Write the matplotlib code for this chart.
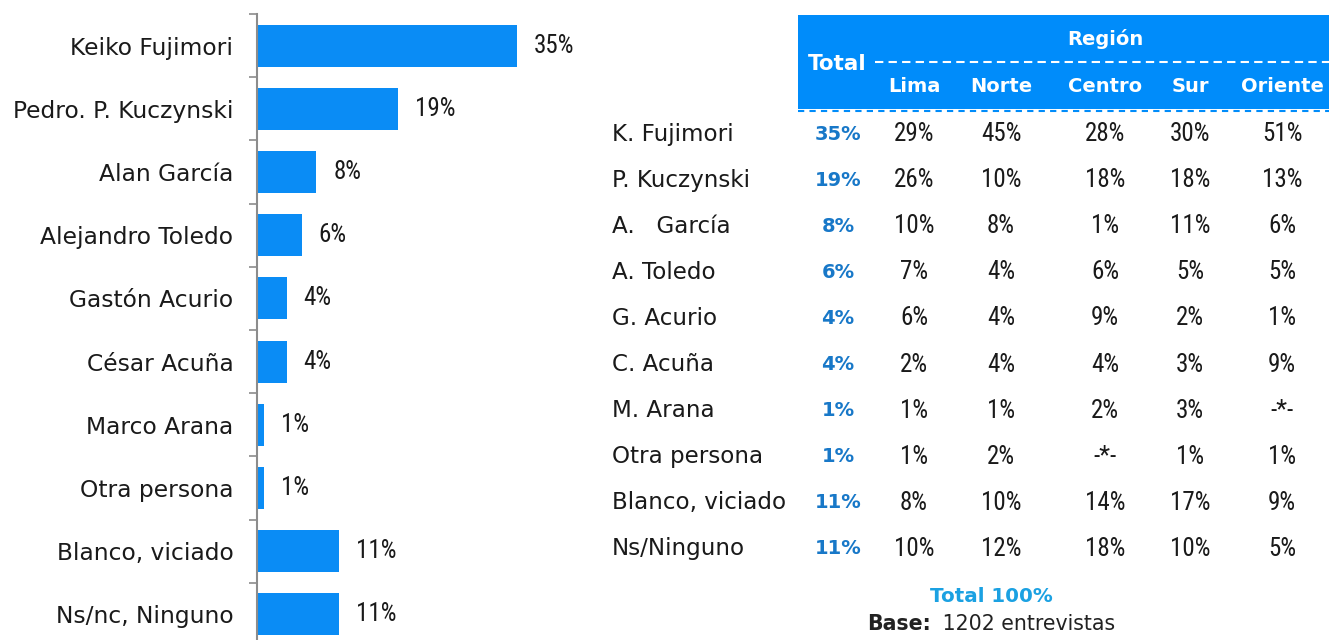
import matplotlib
matplotlib.use("Agg")
import matplotlib.pyplot as plt
from matplotlib.patches import Rectangle

# ---------------- data ----------------
candidates = ["Keiko Fujimori", "Pedro. P. Kuczynski", "Alan García", "Alejandro Toledo",
              "Gastón Acurio", "César Acuña", "Marco Arana", "Otra persona",
              "Blanco, viciado", "Ns/nc, Ninguno"]
values = [35, 19, 8, 6, 4, 4, 1, 1, 11, 11]

row_labels = ["K. Fujimori", "P. Kuczynski", "A.   García", "A. Toledo", "G. Acurio",
              "C. Acuña", "M. Arana", "Otra persona", "Blanco, viciado", "Ns/Ninguno"]
total_col = ["35%", "19%", "8%", "6%", "4%", "4%", "1%", "1%", "11%", "11%"]
regions = ["Lima", "Norte", "Centro", "Sur", "Oriente"]
lima = ["29%", "26%", "10%", "7%", "6%", "2%", "1%", "1%", "8%", "10%"]
norte = ["45%", "10%", "8%", "4%", "4%", "4%", "1%", "2%", "10%", "12%"]
centro = ["28%", "18%", "1%", "6%", "9%", "4%", "2%", "-*-", "14%", "18%"]
sur = ["30%", "18%", "11%", "5%", "2%", "3%", "3%", "1%", "17%", "10%"]
oriente = ["51%", "13%", "6%", "5%", "1%", "9%", "-*-", "1%", "9%", "5%"]
footer_total = "Total 100%"
footer_base = ("Base:", "1202 entrevistas")

# ---------------- style ----------------
W, H = 1329, 640
BLUE = "#0A8CF5"
HEAD = "#008CFA"
TOTBLUE = "#1878C8"
TXT = "#1a1a1a"
LABEL_FONT = ["DejaVu Sans"]
NUM_FONT = ["Roboto Condensed", "PT Sans Narrow", "Liberation Sans"]
NUM_SIZE = 18

fig = plt.figure(figsize=(W / 100, H / 100), dpi=100)

# ---------------- bar chart ----------------
top_px, step_px = 14, 63.2
n = len(candidates)
ax_h = step_px * n
ax = fig.add_axes([257 / W, (H - top_px - ax_h) / H, 342 / W, ax_h / H])
ypos = list(range(n))
ax.barh(ypos, values, height=0.665, color=BLUE)
ax.set_xlim(0, 46)
ax.set_ylim(n - 0.5, -0.5)
for y, v in zip(ypos, values):
    ax.annotate(f"{v}%", (v, y), xytext=(17, 0), textcoords="offset pixels",
                va="center", ha="left", fontsize=NUM_SIZE, color=TXT, family=NUM_FONT)
ax.set_yticks(ypos)
ax.set_yticklabels(candidates, family=LABEL_FONT, fontsize=16.8, color=TXT)
ax.tick_params(axis="y", which="major", length=0, pad=17)
ax.set_yticks([i - 0.5 for i in range(n + 1)], minor=True)
ax.tick_params(axis="y", which="minor", length=6, width=1.2, color="#8c8c8c", direction="out")
ax.set_xticks([])
for s in ("top", "right", "bottom"):
    ax.spines[s].set_visible(False)
ax.spines["left"].set_color("#8c8c8c")
ax.spines["left"].set_linewidth(1.5)

# ---------------- table ----------------
tx = fig.add_axes([0, 0, 1, 1])
tx.set_xlim(0, W)
tx.set_ylim(H, 0)
tx.axis("off")

tx.add_patch(Rectangle((798, 15), W - 798, 94, color=HEAD, lw=0))
tx.plot([875, W], [62, 62], color="white", lw=1.5, ls=(0, (4, 2.5)))
tx.plot([798, W], [111, 111], color=HEAD, lw=1.5, ls=(0, (3, 2.5)))

tx.text(837, 64, "Total", ha="center", va="center", color="white",
        fontsize=15.5, fontweight="bold", family=LABEL_FONT)
tx.text(1105, 39, "Región", ha="center", va="center", color="white",
        fontsize=14, fontweight="bold", family=LABEL_FONT)
col_x = [914, 1001, 1105, 1190, 1282]
for cx, name in zip(col_x, regions):
    tx.text(cx, 87, name, ha="center", va="center", color="white",
            fontsize=14, fontweight="bold", family=LABEL_FONT)

row_y0, row_step = 134, 46.1
cols = [lima, norte, centro, sur, oriente]
for i, lab in enumerate(row_labels):
    y = row_y0 + i * row_step
    tx.text(612, y, lab, ha="left", va="center", color=TXT, fontsize=16.6, family=LABEL_FONT)
    tx.text(838, y, total_col[i], ha="center", va="center", color=TOTBLUE,
            fontsize=14, fontweight="bold", family=LABEL_FONT)
    for cx, col in zip(col_x, cols):
        tx.text(cx, y, col[i], ha="center", va="center", color=TXT,
                fontsize=NUM_SIZE, family=NUM_FONT)

tx.text(991, 596, footer_total, ha="center", va="center", color="#1BA1E2",
        fontsize=14.3, fontweight="bold", family=LABEL_FONT)
tx.text(931, 624, footer_base[0], ha="right", va="center", color="#222222",
        fontsize=14.8, fontweight="bold", family=LABEL_FONT)
tx.text(936, 624, " " + footer_base[1], ha="left", va="center", color="#222222",
        fontsize=14.8, family=LABEL_FONT)

fig.savefig("out.png", dpi=100)
